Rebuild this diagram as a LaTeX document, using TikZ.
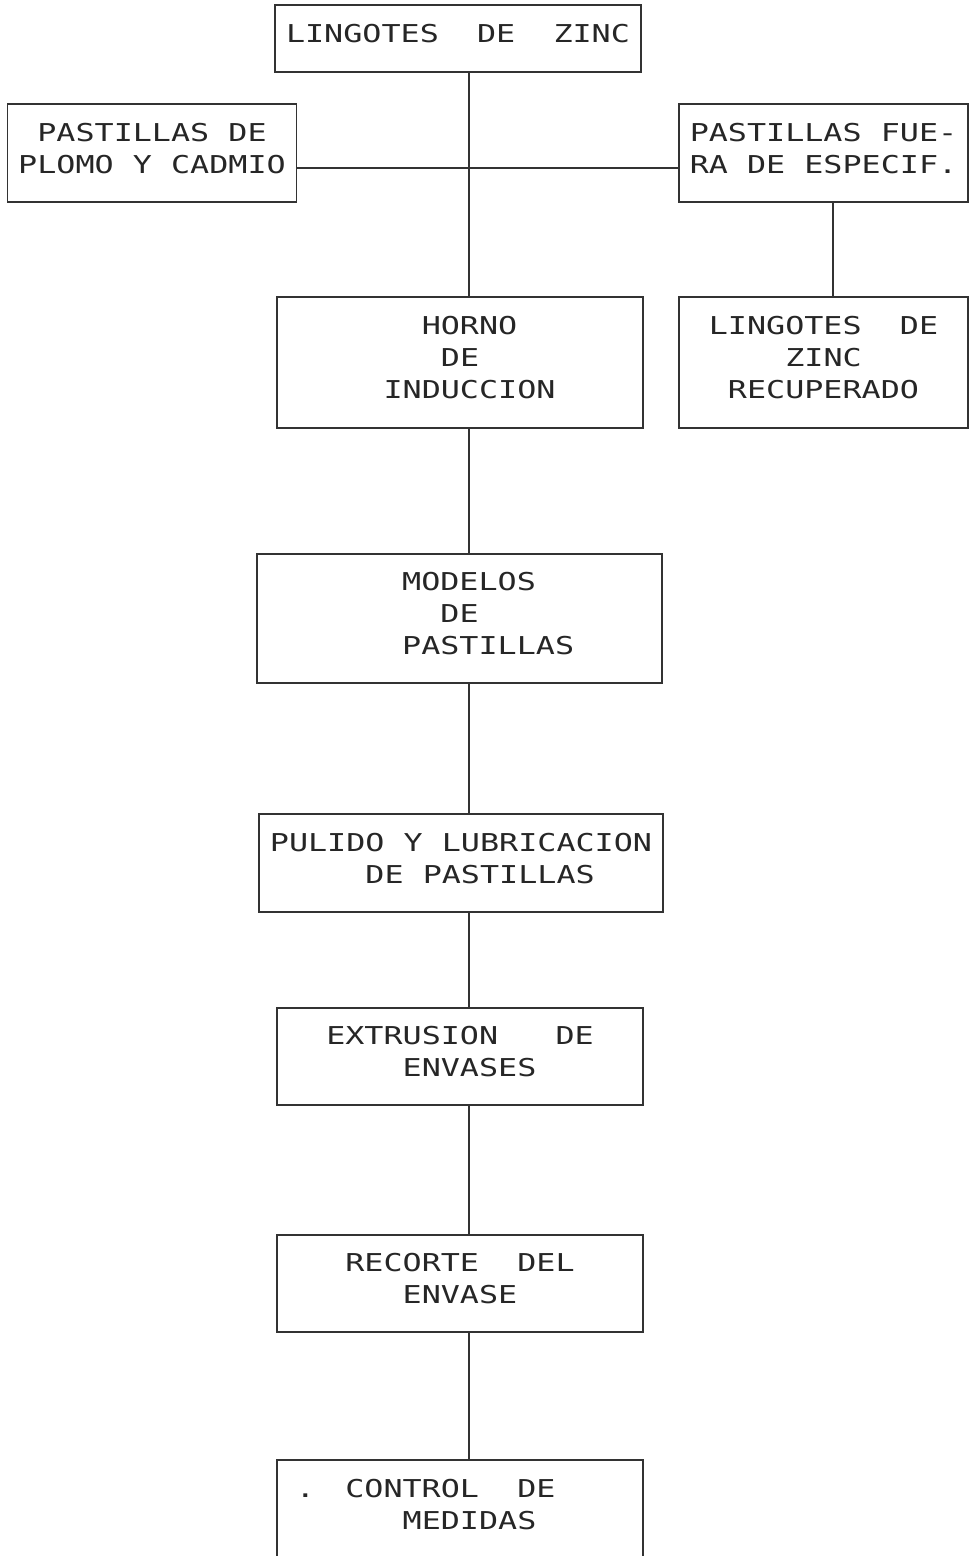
\documentclass[tikz,border=0pt]{standalone}
\usepackage{fontspec}
\setmonofont[FakeStretch=1.29]{DejaVu Sans Mono}
\usepackage{tikz}

\begin{document}
\begin{tikzpicture}[x=0.2mm, y=-0.2mm, line width=0.8pt, draw=black!80,
    main/.style = {draw, rectangle, line width=1pt, inner sep=0pt, align=center, text depth=5.7pt, text=black!85, font=\ttfamily\fontsize{14}{18.2}\selectfont},
    wide/.style = {minimum width=73.2mm},
    side/.style = {minimum width=57.8mm},
    big/.style = {minimum width=80.9mm}]
    \path[use as bounding box, clip] (0,0) rectangle (974,1556);

    \node[main, wide, minimum height=13.4mm] (1) at (458,38.5) {LINGOTES~~DE~~ZINC};
    \node[main, side, minimum height=19.6mm] (2) at (152,153) {PASTILLAS DE\\PLOMO Y CADMIO};
    \node[main, side, minimum height=19.6mm] (3) at (823.5,153) {PASTILLAS FUE-\\RA DE ESPECIF.};
    \node[main, wide, minimum height=26.2mm, align=left] (4) at (460,362.5) {\phantom{XXX}HORNO\\\phantom{XXXX}DE\\\phantom{X}INDUCCION};
    \node[main, side, minimum height=26.2mm] (5) at (823.5,362.5) {LINGOTES~~DE\\ZINC\\RECUPERADO};
    \node[main, big, minimum height=25.8mm, align=left] (6) at (459.5,618.5) {\phantom{XXX}MODELOS\\\phantom{XXXXX}DE\\\phantom{XXX}PASTILLAS};
    \node[main, big, minimum height=19.6mm, align=left] (7) at (461,863) {PULIDO Y LUBRICACION\\\phantom{XXXXX}DE PASTILLAS};
    \node[main, wide, minimum height=19.4mm, align=left] (8) at (460,1056.5) {EXTRUSION~~~DE\\\phantom{XXXX}ENVASES};
    \node[main, wide, minimum height=19.4mm, align=left] (9) at (460,1283.5) {RECORTE~~DEL\\\phantom{XXX}ENVASE};
    \node[main, wide, minimum height=19.8mm, align=left] (10) at (460,1509.5) {\kern4.5pt.~~\kern-4.5pt CONTROL~~DE\phantom{XXXX}\\\phantom{XXXXXX}MEDIDAS};

    \coordinate (col) at (469,0);
    \coordinate (rail) at (0,168);
    \coordinate (far) at (833,0);

\draw (1.south -| col) -- (4.north -| col);
\draw (2.east |- rail) -- (3.west |- rail);
\draw (3.south -| far) -- (5.north -| far);
\draw (4.south -| col) -- (6.north -| col);
\draw (6.south -| col) -- (7.north -| col);
\draw (7.south -| col) -- (8.north -| col);
\draw (8.south -| col) -- (9.north -| col);
\draw (9.south -| col) -- (10.north -| col);
\end{tikzpicture}
\end{document}
